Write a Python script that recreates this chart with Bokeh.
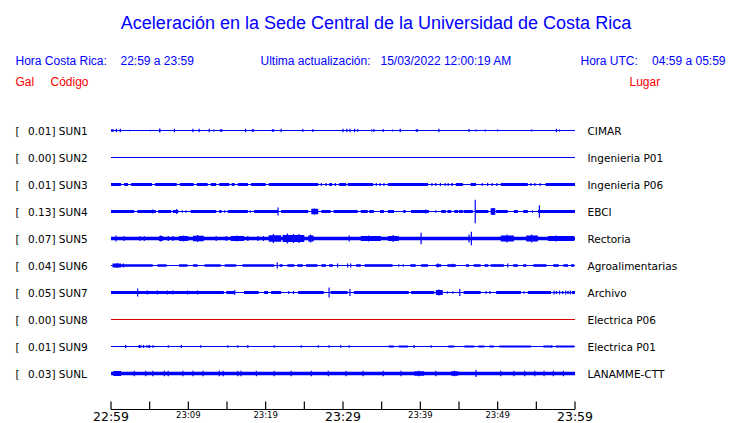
from bokeh.plotting import figure
from bokeh.models import Range1d, ColumnDataSource
from bokeh.core.properties import value
from bokeh.embed import file_html
from bokeh.resources import INLINE

# ---------------- data ----------------
title_text = "Aceleración en la Sede Central de la Universidad de Costa Rica"
hora_cr_label = "Hora Costa Rica:"
hora_cr = "22:59 a 23:59"
update_label = "Ultima actualización:"
update_time = "15/03/2022 12:00:19 AM"
hora_utc_label = "Hora UTC:"
hora_utc = "04:59 a 05:59"

stations = ["SUN1", "SUN2", "SUN3", "SUN4", "SUN5", "SUN6", "SUN7", "SUN8", "SUN9", "SUNL"]
peak_gal = [0.01, 0.00, 0.01, 0.13, 0.07, 0.04, 0.05, 0.00, 0.01, 0.03]
places = ["CIMAR", "Ingenieria P01", "Ingenieria P06", "EBCI", "Rectoria",
          "Agroalimentarias", "Archivo", "Electrica P06", "Electrica P01", "LANAMME-CTT"]
trace_colors = ["#0000ff"] * 7 + ["#dd0000"] + ["#0000ff"] * 2

# time axis: minutes after 22:59
tick_minutes = [0, 5, 10, 15, 20, 25, 30, 35, 40, 45, 50, 55, 60]
big_tick_minutes = [0, 30, 60]
big_tick_labels = ["22:59", "23:29", "23:59"]
small_tick_minutes = [10, 20, 40, 50]
small_tick_labels = ["23:09", "23:19", "23:39", "23:49"]

# noise bands (start min, end min, half amplitude gal) and spikes (min, half amplitude gal)
sun1_bands = [(0.0, 0.35, .012), (6.2, 6.4, .012), (14.1, 14.4, .012), (18.2, 18.5, .012),
              (20.8, 21.1, .012), (24.7, 24.9, .012), (26.0, 26.2, .012), (31.8, 32.0, .012),
              (33.9, 34.1, .012), (35.1, 35.3, .012), (39.4, 39.7, .012)]
sun1_spikes = [(0.7, .017), (1.2, .017), (2.4, .008), (5.1, .008), (6.3, .02), (8.2, .017),
               (10.6, .017), (11.4, .017), (12.7, .017), (13.3, .01), (17.4, .017), (22.0, .017),
               (30.0, .017), (30.5, .017), (30.9, .017), (31.5, .017), (33.7, .01), (36.4, .01),
               (37.4, .017), (42.4, .017), (46.3, .015), (47.2, .01), (48.4, .01), (50.0, .01),
               (54.4, .01), (57.6, .017), (58.0, .01)]
sun2_bands = []
sun2_spikes = []
sun3_bands = [(0, 1.3, .015), (1.7, 2.2, .015), (2.6, 5.3, .015), (5.7, 8.5, .015), (8.9, 10.7, .015),
              (11.1, 12.5, .015), (12.9, 13.6, .015), (14.0, 15.3, .015), (15.6, 16.0, .015),
              (16.4, 17.7, .015), (18.1, 20.0, .015), (20.4, 26.8, .015), (28.2, 28.6, .015),
              (29.5, 30.4, .015), (30.6, 33.9, .015), (35.8, 41.0, .015), (44.0, 44.2, .015),
              (44.6, 45.5, .015), (46.5, 47.2, .015), (50.4, 53.9, .015), (56.2, 60.0, .015)]
sun3_spikes = [(27.2, .015), (27.8, .015), (29.0, .015), (34.3, .015), (34.8, .015), (35.3, .015),
               (41.5, .015), (42.0, .015), (42.6, .015), (43.2, .015), (43.6, .015), (48.0, .015),
               (48.7, .015), (49.3, .015), (49.9, .015), (54.3, .015), (54.8, .015), (55.5, .015)]
sun4_bands = [(0, 3.0, .015), (3.4, 5.8, .015), (6.1, 7.8, .015), (8.0, 8.7, .015), (10.3, 13.6, .015),
              (14.0, 14.3, .015), (15.1, 17.7, .015), (18.5, 21.6, .015), (22.0, 25.5, .015),
              (25.9, 26.8, .028), (27.2, 28.4, .015), (28.8, 31.9, .015), (32.3, 33.2, .015),
              (33.4, 34.0, .015), (34.8, 35.3, .015), (35.8, 36.6, .015), (37.8, 38.1, .015),
              (38.8, 41.1, .015), (42.7, 43.3, .015), (43.5, 44.0, .015), (44.4, 44.9, .015),
              (45.0, 45.5, .015), (45.6, 46.8, .015), (47.2, 48.8, .015), (49.1, 49.7, .033),
              (49.8, 51.3, .015), (52.1, 52.6, .015), (53.3, 53.9, .015), (55.2, 60.0, .015)]
sun4_spikes = [(5.4, .02), (8.5, .025), (9.2, .012), (9.7, .012), (14.7, .012), (18.0, .012),
               (21.6, .04), (26.3, .03), (40.7, .02), (42.0, .012), (47.1, .118), (49.4, .035),
               (54.5, .012), (55.4, .063)]
sun5_bands = [(0, 60, .018), (6.2, 6.7, .025), (8.8, 10.0, .025), (10.6, 12.0, .028), (15.5, 17.2, .025),
              (20.4, 22.0, .032), (22.2, 25.0, .035), (25.5, 26.2, .03), (32.3, 34.9, .025),
              (35.8, 37.2, .025), (50.4, 52.1, .03), (53.7, 55.2, .03), (56.5, 59.9, .025)]
sun5_spikes = [(0.65, .03), (1.7, .025), (3.75, .025), (4.3, .025), (6.4, .03), (7.4, .025), (8.0, .025),
               (9.4, .03), (11.2, .035), (13.6, .025), (14.9, .025), (16.3, .03), (17.7, .025),
               (19.0, .025), (19.7, .025), (21.0, .045), (22.8, .05), (23.6, .045), (24.3, .045),
               (25.8, .04), (30.8, .03), (33.3, .03), (36.5, .035), (40.1, .058), (46.3, .04),
               (46.6, .068), (51.2, .04), (54.4, .04), (57.5, .03)]
sun6_bands = [(0.2, 1.3, .02), (1.3, 5.4, .013), (6.0, 7.2, .013), (8.8, 9.9, .013), (10.6, 11.2, .013),
              (12.1, 14.2, .013), (14.7, 16.2, .013), (17.0, 21.1, .013), (21.8, 22.2, .013),
              (22.8, 23.7, .013), (24.1, 24.8, .013), (25.2, 26.7, .013), (27.2, 27.8, .013),
              (28.2, 28.7, .013), (31.7, 32.3, .013), (32.8, 36.4, .013), (38.7, 39.4, .013),
              (40.1, 41.0, .013), (42.0, 42.7, .013), (43.5, 44.6, .013), (45.9, 46.3, .013),
              (46.9, 47.8, .013), (48.3, 48.8, .013), (49.1, 50.8, .013), (52.0, 52.6, .013),
              (53.3, 53.7, .013), (54.6, 56.3, .013), (57.2, 57.9, .013), (58.5, 59.1, .013),
              (59.5, 59.9, .013)]
sun6_spikes = [(0.8, .025), (1.6, .02), (21.5, .03), (29.3, .02), (30.6, .02), (31.0, .02),
               (37.2, .012), (37.8, .012), (42.3, .02), (44.2, .018), (51.3, .02)]
sun7_bands = [(0, 14.6, .015), (14.9, 15.9, .015), (17.2, 19.1, .015), (19.8, 20.3, .015),
              (20.7, 22.0, .015), (24.2, 27.5, .015), (28.4, 30.6, .015), (31.4, 38.5, .015),
              (38.8, 41.8, .015), (42.0, 42.9, .025), (45.6, 47.8, .015), (49.8, 53.0, .015),
              (53.9, 56.9, .015), (57.5, 57.7, .015), (58.3, 58.5, .015), (59.0, 59.2, .015),
              (59.6, 60.0, .015)]
sun7_spikes = [(3.45, .04), (4.7, .02), (6.0, .02), (7.3, .02), (8.0, .02), (9.9, .02), (11.2, .02),
               (16.0, .025), (23.0, .015), (23.6, .015), (28.2, .05), (30.9, .035), (42.4, .03),
               (43.5, .012), (44.2, .012), (45.1, .035), (48.5, .015), (49.0, .015), (53.4, .012),
               (57.3, .02), (58.0, .02), (58.8, .02), (59.4, .02)]
sun8_bands = []
sun8_spikes = []
sun9_bands = [(3.5, 4.0, .01), (4.5, 5.0, .01), (5.3, 5.6, .01), (35.9, 36.6, .01), (37.2, 38.4, .01),
              (43.6, 44.4, .01), (45.7, 47.0, .01), (47.5, 48.3, .01), (48.9, 49.5, .01),
              (50.2, 54.3, .01), (55.9, 56.9, .01), (57.5, 59.9, .01)]
sun9_spikes = [(1.9, .015), (3.7, .015), (4.2, .015), (5.0, .015), (7.4, .012), (9.1, .015),
               (11.6, .012), (15.1, .012), (16.4, .012), (17.7, .015), (21.1, .012), (24.6, .012),
               (26.8, .012), (28.2, .012), (29.7, .012), (30.8, .012), (39.2, .015), (41.4, .012),
               (57.0, .015)]
sunl_bands = [(0, 60, .017), (0.3, 1.3, .025), (39.2, 40.5, .022), (44.0, 44.9, .022)]
sunl_spikes = [(3.0, .028), (4.5, .028), (5.4, .028), (6.9, .028), (7.4, .028), (9.3, .028),
               (10.6, .028), (11.9, .028), (14.0, .028), (14.5, .028), (16.4, .028), (16.8, .028),
               (18.8, .028), (21.1, .028), (23.3, .028), (25.9, .028), (28.1, .028), (30.4, .028),
               (32.6, .028), (35.2, .028), (37.5, .028), (39.8, .028), (42.0, .028), (44.4, .028),
               (47.2, .035), (50.4, .028), (52.1, .028), (53.5, .028), (54.8, .028), (56.0, .028),
               (57.2, .028), (58.5, .028)]

all_bands = [sun1_bands, sun2_bands, sun3_bands, sun4_bands, sun5_bands,
             sun6_bands, sun7_bands, sun8_bands, sun9_bands, sunl_bands]
all_spikes = [sun1_spikes, sun2_spikes, sun3_spikes, sun4_spikes, sun5_spikes,
              sun6_spikes, sun7_spikes, sun8_spikes, sun9_spikes, sunl_spikes]

T_START, T_END = 0, 60

# ---------------- layout ----------------
W, H = 740, 423
PX_PER_MIN = 7.7333
X0_PX = 110.5           # canvas pixel of minute 0
PX_PER_GAL = 100.0
ROW0_PX = 130.0         # canvas pixel of first trace
ROW_GAL = 0.27          # spacing between traces (gal)

def fx(px):
    return (px - X0_PX) / PX_PER_MIN

def fy(py):
    return (ROW0_PX - py) / PX_PER_GAL

p = figure(width=W, height=H, output_backend="svg", toolbar_location=None,
           x_range=Range1d(-X0_PX / PX_PER_MIN, (W - X0_PX) / PX_PER_MIN),
           y_range=Range1d((ROW0_PX - H) / PX_PER_GAL, ROW0_PX / PX_PER_GAL),
           x_axis_location=None, y_axis_location=None, min_border=0)
p.grid.visible = False
p.outline_line_color = None
p.background_fill_color = "white"
p.border_fill_color = "white"

# traces
base = dict(x0=[], x1=[], y=[], c=[])
bq = dict(l=[], r=[], b=[], t=[], c=[])
sp = dict(x=[], y0=[], y1=[], c=[])
for i in range(len(stations)):
    c = -i * ROW_GAL
    col = trace_colors[i]
    base["x0"].append(T_START); base["x1"].append(T_END); base["y"].append(c); base["c"].append(col)
    for t0, t1, a in all_bands[i]:
        bq["l"].append(t0); bq["r"].append(t1); bq["b"].append(c - a); bq["t"].append(c + a); bq["c"].append(col)
    for t, a in all_spikes[i]:
        sp["x"].append(t); sp["y0"].append(c - a); sp["y1"].append(c + a); sp["c"].append(col)

p.segment(x0="x0", y0="y", x1="x1", y1="y", line_color="c", line_width=1.2, source=ColumnDataSource(base))
p.quad(left="l", right="r", bottom="b", top="t", fill_color="c", line_color=None, source=ColumnDataSource(bq))
p.segment(x0="x", y0="y0", x1="x", y1="y1", line_color="c", line_width=1.2, source=ColumnDataSource(sp))

# station labels
row_y = [-i * ROW_GAL for i in range(len(stations))]
mono = value("DejaVu Sans")
p.text(x=[fx(15)] * len(stations), y=row_y, text=["["] * len(stations),
       text_font=mono, text_font_size="10.5px", text_baseline="middle", text_color="black")
p.text(x=[fx(27.5)] * len(stations), y=row_y,
       text=["%.2f] %s" % (v, s) for v, s in zip(peak_gal, stations)],
       text_font=mono, text_font_size="10.5px", text_baseline="middle", text_color="black")
p.text(x=[fx(587)] * len(stations), y=row_y, text=places,
       text_font=mono, text_font_size="10.5px", text_baseline="middle", text_color="black")

# header
sans = value("Liberation Sans")
p.text(x=[fx(375.5)], y=[fy(22.5)], text=[title_text], text_font=sans, text_font_size="18px",
       text_align="center", text_baseline="middle", text_color="#0000ff")
p.text(x=[fx(15), fx(120), fx(260), fx(380), fx(580)], y=[fy(60.5)] * 5,
       text=[hora_cr_label, hora_cr, update_label, update_time, hora_utc_label],
       text_font=sans, text_font_size="12px", text_baseline="middle", text_color="#0000ff")
p.text(x=[fx(725)], y=[fy(60.5)], text=[hora_utc], text_font=sans, text_font_size="12px",
       text_align="right", text_baseline="middle", text_color="#0000ff")
p.text(x=[fx(15), fx(50), fx(629)], y=[fy(81)] * 3, text=["Gal", "Código", "Lugar"],
       text_font=sans, text_font_size="12px", text_baseline="middle", text_color="#ff0000")

# time axis
axis_y = fy(409.0)
tick_top = fy(401.0)
p.segment(x0=[T_START], y0=[axis_y], x1=[T_END], y1=[axis_y], line_color="black", line_width=1.2)
p.segment(x0=tick_minutes, y0=[axis_y] * len(tick_minutes), x1=tick_minutes,
          y1=[tick_top] * len(tick_minutes), line_color="black", line_width=1.2)
p.text(x=big_tick_minutes, y=[fy(415.5)] * 3, text=big_tick_labels, text_font=mono,
       text_font_size="12.5px", text_align="center", text_baseline="middle", text_color="black")
p.text(x=small_tick_minutes, y=[fy(414.5)] * 4, text=small_tick_labels, text_font=mono,
       text_font_size="8.5px", text_align="center", text_baseline="middle", text_color="black")

open("out.html", "w").write(file_html(p, INLINE))
